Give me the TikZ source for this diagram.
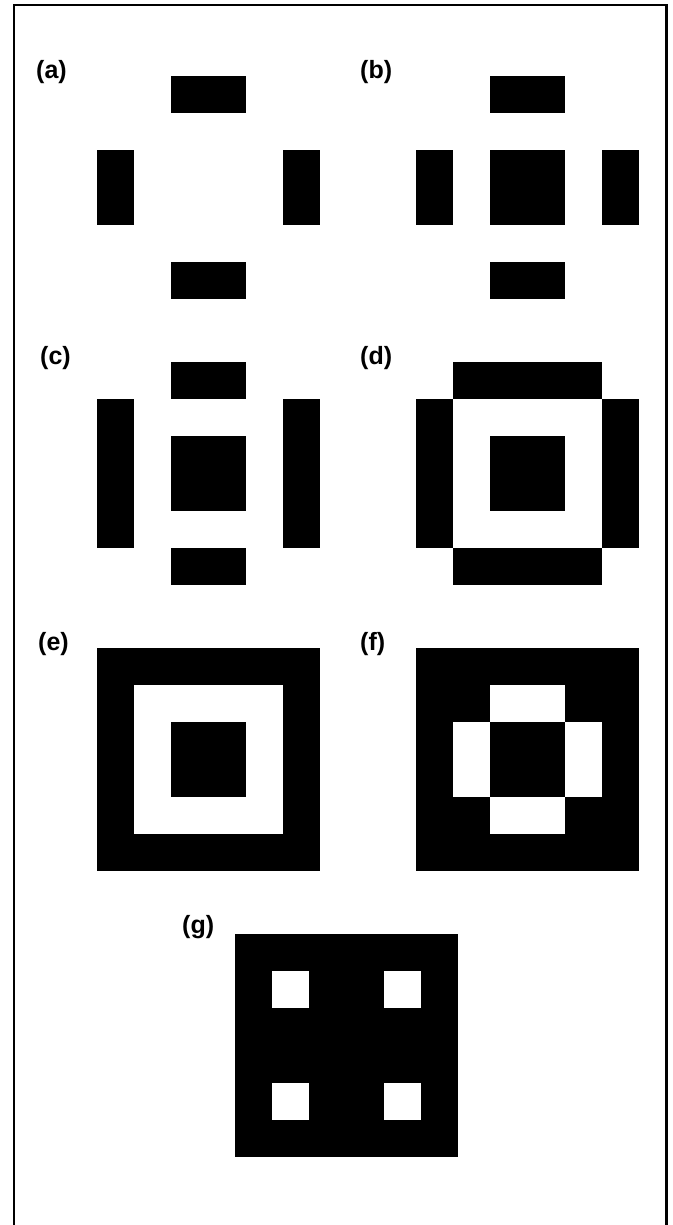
\documentclass[tikz,border=0pt]{standalone}
\usepackage{fontspec}
\setmainfont{Liberation Sans}
\begin{document}
\begin{tikzpicture}[x=1pt,y=-1pt,
  lbl/.style={anchor=west,inner sep=0pt,font=\fontsize{25}{30}\selectfont\bfseries},
  blk/.style={fill=black},
  wht/.style={fill=white},
  panel/.style={x=37.2pt,y=-37.2pt}]
\useasboundingbox (0,0) rectangle (672,1225);
% frame (open at the bottom)
\draw[line width=2.5pt] (14,1240) -- (14,5) -- (666.5,5) -- (666.5,1240);
% labels
\node[lbl] (la) at (36,72) {(a)};
\node[lbl] (lb) at (360,72) {(b)};
\node[lbl] (lc) at (40,358) {(c)};
\node[lbl] (ld) at (360,358) {(d)};
\node[lbl] (le) at (38,644) {(e)};
\node[lbl] (lf) at (360,644) {(f)};
\node[lbl] (lg) at (182,927) {(g)};
% (a)
\begin{scope}[shift={(97,76)},panel]
  \fill[blk] (2,0) rectangle (4,1);
  \fill[blk] (0,2) rectangle (1,4);
  \fill[blk] (5,2) rectangle (6,4);
  \fill[blk] (2,5) rectangle (4,6);
\end{scope}
% (b)
\begin{scope}[shift={(416,76)},panel]
  \fill[blk] (2,0) rectangle (4,1);
  \fill[blk] (0,2) rectangle (1,4);
  \fill[blk] (5,2) rectangle (6,4);
  \fill[blk] (2,2) rectangle (4,4);
  \fill[blk] (2,5) rectangle (4,6);
\end{scope}
% (c)
\begin{scope}[shift={(97,362)},panel]
  \fill[blk] (2,0) rectangle (4,1);
  \fill[blk] (0,1) rectangle (1,5);
  \fill[blk] (5,1) rectangle (6,5);
  \fill[blk] (2,2) rectangle (4,4);
  \fill[blk] (2,5) rectangle (4,6);
\end{scope}
% (d)
\begin{scope}[shift={(416,362)},panel]
  \fill[blk] (1,0) rectangle (5,1);
  \fill[blk] (0,1) rectangle (1,5);
  \fill[blk] (5,1) rectangle (6,5);
  \fill[blk] (2,2) rectangle (4,4);
  \fill[blk] (1,5) rectangle (5,6);
\end{scope}
% (e)
\begin{scope}[shift={(97,648)},panel]
  \fill[blk] (0,0) rectangle (6,6);
  \fill[wht] (1,1) rectangle (5,5);
  \fill[blk] (2,2) rectangle (4,4);
\end{scope}
% (f)
\begin{scope}[shift={(416,648)},panel]
  \fill[blk] (0,0) rectangle (6,6);
  \fill[wht] (2,1) rectangle (4,2);
  \fill[wht] (1,2) rectangle (2,4);
  \fill[wht] (4,2) rectangle (5,4);
  \fill[wht] (2,4) rectangle (4,5);
\end{scope}
% (g)
\begin{scope}[shift={(235,934)},panel]
  \fill[blk] (0,0) rectangle (6,6);
  \fill[wht] (1,1) rectangle (2,2);
  \fill[wht] (4,1) rectangle (5,2);
  \fill[wht] (1,4) rectangle (2,5);
  \fill[wht] (4,4) rectangle (5,5);
\end{scope}
\end{tikzpicture}
\end{document}
